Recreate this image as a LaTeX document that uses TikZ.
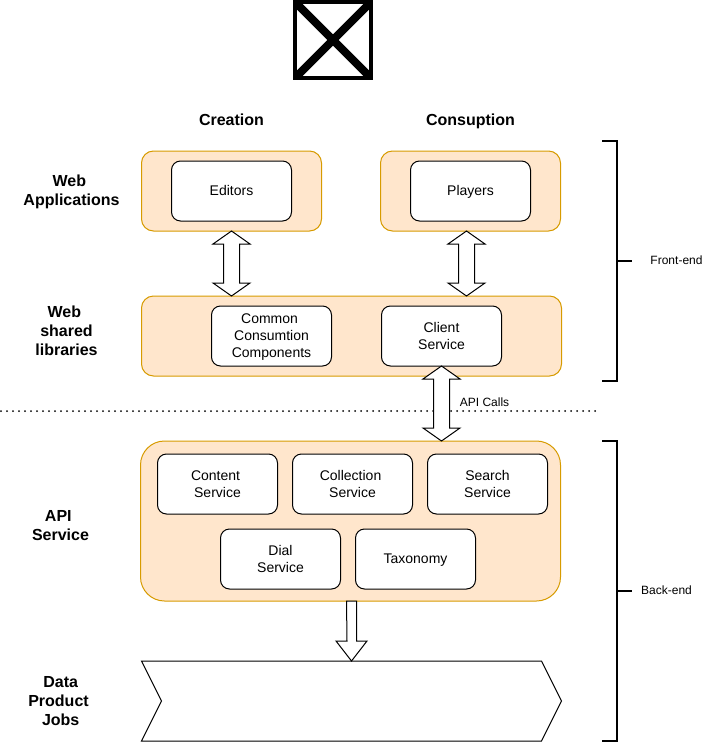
\documentclass[tikz,border=0pt]{standalone}
\usepackage{fontspec}
\setmainfont{Liberation Sans}
\usetikzlibrary{calc}
\definecolor{groupfill}{HTML}{FFE6CC}
\definecolor{groupline}{HTML}{D79B00}
\tikzset{
  group/.style={draw=groupline, fill=groupfill, line width=.75pt, rounded corners=9pt, inner sep=0pt, outer sep=0pt},
  service/.style={draw=black, fill=white, line width=.75pt, rounded corners=6.75pt, minimum width=90pt, minimum height=45pt,
    inner sep=0pt, outer sep=0pt, align=center, font=\fontsize{10.5}{12.75}\selectfont},
  oneline/.style={align=none, text height=8pt, text depth=2pt},
  heading/.style={align=center, font=\fontsize{12}{14.25}\selectfont\bfseries},
  column/.style={heading, align=none, text height=11pt, text depth=2.8pt},
  small/.style={font=\fontsize{9}{11}\selectfont},
  bracket/.style={draw=black, line width=1.5pt},
  blockarrow/.style={draw=black, fill=white, line width=.75pt, line join=miter}
}
% trailing blank of a line
\newcommand{\tb}{\hspace*{2.9pt}}
\newcommand{\tbb}{\hspace*{3.3pt}}
% double block arrow, top tip to bottom tip
\newcommand{\dblarrow}[2]{%
  \draw[blockarrow] (#1) -- ++(18.5,13) -- ++(-10.5,0) -- ($(#2)+(8,-13)$) -- ++(10.5,0) -- (#2)
    -- ++(-18.5,-13) -- ++(10.5,0) -- ($(#1)+(-8,13)$) -- ++(-10.5,0) -- cycle;
}
\begin{document}
\begin{tikzpicture}[x=.75pt, y=-.75pt]
  \useasboundingbox (0,0) rectangle (712,742);
  \def\Xa{231.5};
  \def\Xb{470.5};

  % icon
  \draw[line width=3pt] (295,2) rectangle (371,78);
  \draw[line width=6pt] (296,3) -- (370,77);
  \draw[line width=6pt] (370,3) -- (296,77);

  % columns
  \node[column] (creation) at (\Xa, 120.5) {Creation};
  \node[column] (consuption) at (\Xb, 120.5) {Consuption};

  % rows
  \node[heading] (webapps) at (71.5, 192) {Web\tbb\\Applications};
  \node[heading] (weblibs) at (66.5, 331) {Web\tbb\\shared\\libraries};
  \node[heading] (apilabel) at (60.5, 526) {API\tbb\\Service};
  \node[heading] (joblabel) at (58.5, 701) {\tbb Data\\Product\\\tbb Jobs};

  % web applications
  \node[group, minimum width=135pt, minimum height=60pt] (creategroup) at (\Xa, 191) {};
  \node[group, minimum width=135pt, minimum height=60pt] (playgroup) at (\Xb, 191) {};
  \node[service, oneline] (editors) at (\Xa, 191) {Editors};
  \node[service, oneline] (players) at (\Xb, 191) {Players};

  % shared libraries
  \node[group, minimum width=315pt, minimum height=60pt] (sharedgroup) at (351.5, 336) {};
  \node[service] (common) at (271.5, 336) {\rule{0pt}{8.7pt}Common\tb\\Consumtion\\Components};
  \node[service] (client) at (441.5, 336) {Client\\Service};

  % api
  \node[group, rounded corners=18pt, minimum width=315pt, minimum height=120pt] (apigroup) at (350.5, 521) {};
  \node[service] (content) at (217.5, 484) {Content\tb\\Service};
  \node[service] (collection) at (352.5, 484) {Collection\tb\\Service};
  \node[service] (search) at (487.5, 484) {Search\\Service};
  \node[service] (dial) at (280.5, 559) {Dial\\Service};
  \node[service, oneline] (taxonomy) at (415.5, 559) {Taxonomy};

  % jobs
  \node[inner sep=0pt, outer sep=0pt, minimum width=315pt, minimum height=60pt] (jobs) at (351.5, 701) {};
  \draw[line width=.75pt, fill=white] (jobs.north west) -- ($(jobs.north east)+(-20,0)$) -- (jobs.east)
    -- ($(jobs.south east)+(-20,0)$) -- (jobs.south west) -- ($(jobs.west)+(20,0)$) -- cycle;

  % separator
  \coordinate (dotsa) at (1, 411);
  \coordinate (dotsb) at (596, 411);
  \draw[line width=1.5pt, line cap=round, dash pattern=on 0pt off 4.5pt] (dotsa) -- (dotsb);

  % block arrows
  \coordinate (playsouth) at ($(playgroup.south)+(-4,0)$);
  \coordinate (clientsouth) at (client.south);
  \dblarrow{creategroup.south}{creategroup.south |- sharedgroup.north}
  \dblarrow{playsouth}{playsouth |- sharedgroup.north}
  \dblarrow{clientsouth}{clientsouth |- apigroup.north}
  \draw[blockarrow] ($(apigroup.south)+(-4,0)$) -- ($(jobs.north)+(-4.5,-20)$)
    -- ++(-11,0) -- (jobs.north) -- ++(15.5,-20) -- ++(-10.5,0) -- ($(apigroup.south)+(6,0)$) -- cycle;
  \node[small] (apicalls) at (484.5, 402) {API Calls};

  % brackets
  \coordinate (fronta) at (602, 141);
  \coordinate (frontb) at (602, 381);
  \coordinate (backa) at (602, 441);
  \coordinate (backb) at (602, 741);
  \node[small] (frontend) at (676.5, 260) {Front-end};
  \node[small] (backend) at (666.5, 590) {Back-end};
  \draw[bracket] (fronta) -- ++(14.5,0) -- ($(frontb)+(14.5,0)$) -- (frontb);
  \draw[bracket] ($(fronta)!.5!(frontb)+(14.5,0)$) -- ++(15,0);
  \draw[bracket] (backa) -- ++(14.5,0) -- ($(backb)+(14.5,0)$) -- (backb);
  \draw[bracket] ($(backa)!.5!(backb)+(14.5,0)$) -- ++(15,0);
\end{tikzpicture}
\end{document}
